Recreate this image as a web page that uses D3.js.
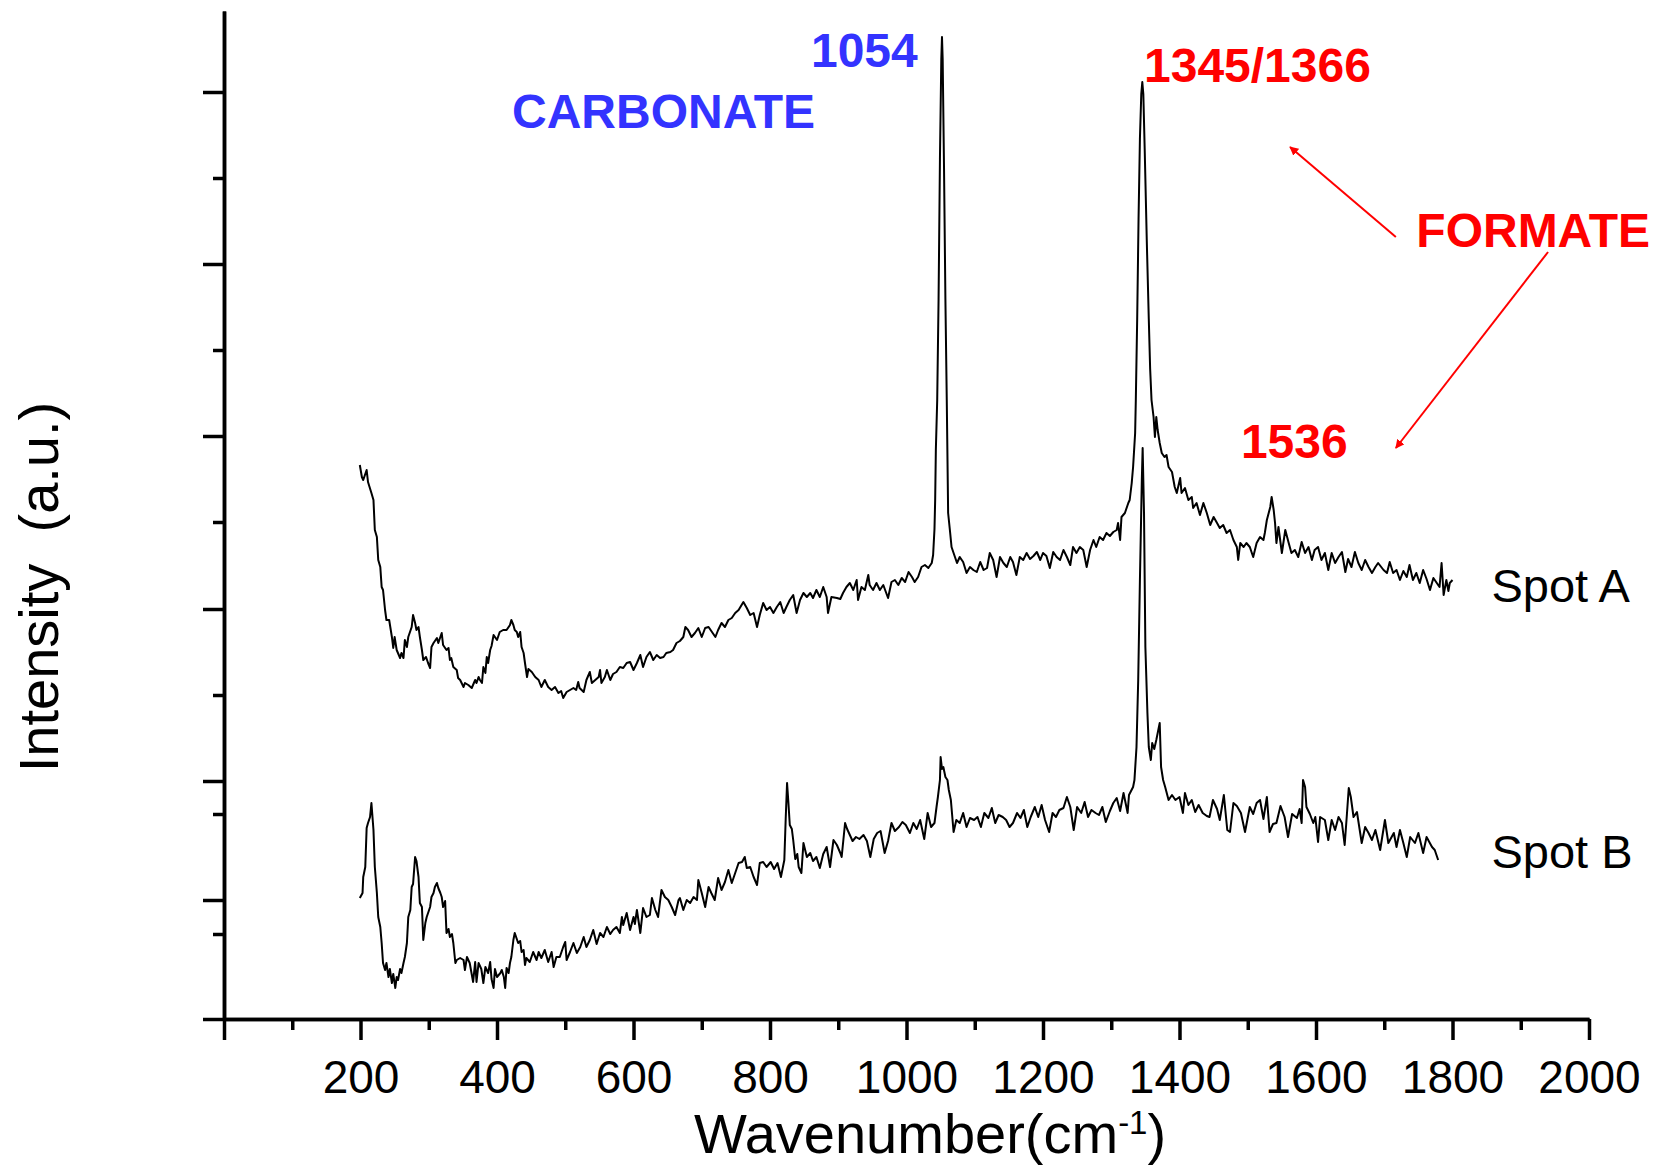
<!DOCTYPE html>
<html>
<head>
<meta charset="utf-8">
<style>
  body { margin: 0; background: #fff; }
  svg { display: block; font-family: "Liberation Sans", Arial, Helvetica, sans-serif; }
  .axis path, .axis line { stroke: #000; stroke-width: 3.5; fill: none; }
  .axis text { fill: #000; font-size: 46px; font-family: "Liberation Sans", Arial, sans-serif; }
  .spectrum { fill: none; stroke: #000; stroke-width: 2; stroke-linejoin: round; }
  .note { font-weight: bold; font-size: 48px; }
</style>
<script src="https://cdnjs.cloudflare.com/ajax/libs/d3/7.8.5/d3.min.js"></script>
</head>
<body>
<script>
// Raman spectra, [wavenumber cm-1, intensity a.u.]
var spotA = [[199,554],[202,542],[204,539],[209,549],[211,537],[216,526],[219,519],[221,489],[224,482],[226,459],[229,452],[231,432],[233,429],[236,409],[238,399],[242,399],[246,382],[248,371],[250,382],[253,369],[258,361],[260,366],[263,361],[265,379],[268,372],[270,382],[275,392],[277,404],[280,396],[282,389],[285,392],[287,382],[290,369],[292,359],[296,362],[299,356],[302,351],[304,372],[307,376],[312,381],[314,376],[317,382],[319,386],[321,374],[326,369],[329,371],[331,359],[333,361],[336,352],[341,349],[343,341],[346,339],[351,332],[353,336],[358,334],[363,331],[368,339],[370,336],[373,342],[375,339],[378,336],[380,352],[383,346],[385,362],[387,356],[390,369],[392,373],[395,384],[400,379],[404,387],[409,389],[414,389],[419,394],[421,399],[424,394],[426,389],[429,387],[431,382],[434,387],[436,372],[439,366],[441,356],[444,342],[446,350],[451,347],[456,342],[461,339],[465,332],[470,339],[475,332],[480,329],[485,332],[490,326],[494,328],[497,321],[502,327],[507,329],[512,331],[516,329],[519,337],[521,331],[527,327],[531,339],[536,347],[539,336],[544,339],[549,342],[551,349],[553,336],[558,342],[561,349],[566,339],[570,345],[575,347],[580,352],[585,351],[590,356],[595,357],[600,349],[605,356],[610,364],[614,352],[619,362],[624,367],[629,359],[634,364],[639,361],[644,362],[648,366],[654,367],[658,369],[663,376],[668,378],[673,382],[676,392],[680,389],[685,382],[690,386],[695,391],[700,382],[705,391],[710,392],[715,387],[720,382],[724,389],[729,396],[734,392],[739,399],[744,401],[749,406],[754,409],[761,417],[766,411],[771,404],[776,406],[781,392],[785,404],[790,416],[795,409],[800,412],[805,406],[810,412],[815,417],[820,406],[824,412],[829,419],[834,424],[839,406],[844,419],[849,426],[854,422],[859,426],[863,421],[868,429],[873,422],[878,432],[883,422],[885,406],[890,422],[898,421],[903,420],[907,426],[912,432],[917,436],[922,429],[927,439],[929,419],[934,432],[939,429],[944,444],[946,434],[951,429],[956,436],[961,429],[966,434],[973,421],[978,437],[983,439],[988,434],[993,441],[998,437],[1003,447],[1008,442],[1012,437],[1017,442],[1022,452],[1027,454],[1032,451],[1037,456],[1039,464],[1041,490],[1042,519],[1043,569],[1045,619],[1047,720],[1049,860],[1051,960],[1052,982],[1053,960],[1055,850],[1057,720],[1059,619],[1061,506],[1064,486],[1066,472],[1071,462],[1074,456],[1078,462],[1083,457],[1088,446],[1093,452],[1098,449],[1103,447],[1108,457],[1113,449],[1118,451],[1122,466],[1127,459],[1132,442],[1137,462],[1142,456],[1147,452],[1152,462],[1156,457],[1161,444],[1166,462],[1171,459],[1176,466],[1181,460],[1186,463],[1191,467],[1196,459],[1200,466],[1205,463],[1210,451],[1215,467],[1220,462],[1225,459],[1230,469],[1235,462],[1240,454],[1244,472],[1249,466],[1254,472],[1259,469],[1264,452],[1269,469],[1274,479],[1278,472],[1283,482],[1288,479],[1293,486],[1298,483],[1303,487],[1308,489],[1310,496],[1313,479],[1315,502],[1320,506],[1325,516],[1327,519],[1330,536],[1332,552],[1335,586],[1336,619],[1338,700],[1340,800],[1342,880],[1344,925],[1345.5,937],[1347,925],[1349,870],[1352,780],[1355,700],[1357,650],[1359,619],[1362,602],[1364,582],[1366,602],[1368,589],[1371,576],[1374,566],[1378,562],[1381,564],[1384,552],[1389,547],[1393,532],[1396,526],[1401,541],[1403,526],[1408,531],[1413,519],[1418,522],[1420,511],[1425,516],[1430,504],[1435,516],[1440,506],[1445,494],[1450,502],[1455,496],[1459,491],[1464,494],[1469,486],[1474,489],[1479,479],[1484,472],[1486,459],[1489,476],[1494,472],[1498,476],[1503,472],[1508,462],[1513,476],[1518,482],[1523,479],[1525,486],[1528,499],[1533,512],[1535,522],[1538,509],[1540,496],[1542,476],[1545,492],[1550,466],[1555,489],[1560,476],[1564,466],[1569,469],[1574,462],[1579,477],[1584,466],[1589,472],[1594,459],[1598,469],[1603,472],[1608,459],[1613,466],[1618,449],[1623,466],[1628,456],[1633,462],[1638,467],[1643,447],[1647,460],[1652,452],[1657,467],[1662,456],[1667,449],[1672,459],[1677,452],[1682,446],[1687,452],[1691,456],[1699,449],[1704,446],[1708,457],[1713,446],[1718,449],[1723,439],[1728,448],[1733,442],[1737,454],[1742,439],[1747,446],[1752,436],[1757,449],[1762,440],[1767,429],[1772,441],[1777,436],[1781,432],[1784,456],[1787,424],[1791,439],[1794,428],[1796,436],[1800,439]];

var spotB = [[199,121],[203,126],[204,142],[207,152],[209,191],[211,196],[214,202],[216,216],[219,189],[221,152],[224,126],[226,102],[229,92],[231,76],[233,56],[236,49],[238,56],[241,42],[243,50],[246,36],[248,45],[251,31],[253,42],[255,39],[258,50],[260,46],[263,56],[265,62],[268,76],[270,102],[273,109],[275,132],[277,135],[280,162],[282,158],[285,142],[287,116],[290,112],[292,79],[295,96],[297,102],[299,106],[302,112],[304,122],[307,126],[309,132],[312,136],[314,131],[317,126],[319,122],[321,112],[324,118],[326,86],[329,90],[331,82],[334,85],[336,76],[339,56],[341,59],[346,61],[351,59],[353,49],[356,62],[360,56],[365,37],[368,57],[370,37],[373,56],[377,50],[380,36],[383,52],[387,46],[390,57],[392,40],[395,31],[397,50],[400,42],[405,46],[407,49],[410,42],[412,31],[414,51],[417,46],[419,56],[421,62],[424,79],[426,86],[429,80],[431,76],[434,78],[436,67],[439,69],[441,54],[443,61],[448,57],[453,67],[458,59],[461,67],[465,61],[470,69],[475,57],[480,67],[483,52],[487,62],[492,62],[497,72],[500,77],[502,59],[507,67],[512,76],[517,66],[522,72],[527,82],[531,72],[536,79],[541,89],[546,75],[551,86],[556,82],[561,92],[566,85],[570,89],[575,92],[580,86],[583,102],[585,94],[590,106],[595,89],[600,102],[602,95],[605,109],[610,86],[614,111],[619,102],[624,104],[627,121],[632,109],[636,102],[641,129],[646,122],[651,119],[656,112],[661,104],[666,119],[668,121],[673,109],[678,119],[683,116],[688,122],[693,119],[695,139],[700,126],[705,112],[710,132],[714,126],[719,119],[724,141],[729,129],[734,137],[739,149],[744,136],[749,146],[754,156],[759,157],[763,162],[766,151],[771,152],[776,142],[781,134],[785,156],[790,157],[795,152],[801,157],[806,150],[811,156],[816,142],[821,159],[823,200],[825,236],[827,216],[829,194],[832,190],[834,179],[837,160],[840,165],[842,152],[846,146],[849,176],[854,162],[859,166],[863,158],[868,162],[873,151],[878,165],[883,172],[888,152],[893,179],[898,174],[903,166],[905,162],[910,196],[913,190],[917,184],[921,178],[926,182],[931,180],[937,184],[942,178],[947,162],[952,180],[957,186],[962,188],[968,166],[973,178],[978,196],[983,188],[989,192],[994,197],[999,194],[1005,186],[1010,196],[1015,190],[1020,199],[1026,180],[1031,206],[1036,192],[1041,196],[1044,212],[1046,222],[1049,239],[1050,262],[1052,250],[1054,252],[1057,242],[1060,239],[1062,229],[1065,219],[1069,187],[1073,199],[1078,196],[1083,206],[1088,192],[1093,201],[1099,199],[1104,202],[1109,192],[1114,206],[1120,201],[1125,211],[1130,196],[1135,204],[1141,202],[1146,199],[1151,192],[1156,196],[1162,206],[1167,201],[1172,209],[1177,192],[1182,202],[1188,212],[1193,202],[1198,214],[1203,199],[1209,187],[1214,206],[1219,202],[1224,209],[1230,211],[1235,222],[1240,212],[1245,189],[1250,212],[1256,206],[1261,217],[1266,202],[1271,209],[1277,206],[1282,204],[1287,212],[1292,197],[1298,208],[1303,216],[1308,221],[1313,208],[1318,226],[1324,206],[1326,224],[1332,232],[1334,239],[1337,272],[1339.5,339],[1342,439],[1344.8,539],[1346,571],[1348,506],[1350,372],[1353,306],[1355,272],[1358,259],[1360,276],[1363,270],[1366,279],[1371,296],[1373,252],[1376,239],[1379,232],[1384,219],[1389,224],[1394,219],[1400,222],[1405,206],[1408,226],[1413,214],[1418,219],[1423,207],[1428,214],[1434,206],[1440,203],[1444,202],[1449,219],[1455,210],[1459,199],[1465,224],[1470,189],[1474,187],[1479,216],[1484,213],[1490,206],[1496,187],[1503,212],[1508,205],[1513,216],[1518,219],[1523,200],[1528,222],[1532,187],[1537,195],[1542,196],[1548,213],[1554,202],[1559,182],[1565,205],[1572,201],[1576,210],[1579,196],[1581,239],[1584,232],[1586,212],[1591,205],[1596,196],[1599,202],[1603,177],[1606,202],[1613,199],[1618,179],[1623,199],[1628,189],[1633,202],[1638,196],[1642,174],[1645,202],[1648,231],[1651,222],[1655,202],[1660,207],[1667,176],[1672,192],[1677,186],[1682,179],[1687,189],[1694,169],[1701,199],[1706,176],[1714,186],[1718,172],[1723,189],[1728,176],[1733,162],[1738,182],[1745,176],[1750,186],[1757,166],[1762,182],[1770,172],[1774,169],[1779,159]];

var xMajor = [0,200,400,600,800,1000,1200,1400,1600,1800,2000];
var xMinor = [100,300,500,700,900,1100,1300,1500,1700,1900];
var yMajor = [0,119,238,410,583,755,927];
var yMinor = [85,205,324,497,669,841];

// annotation text anchored in data units [wavenumber, intensity]
var notes = [
  {text: "CARBONATE", wn: 422, y: 891, color: "#3333ff"},
  {text: "1054", wn: 860, y: 952, color: "#3333ff"},
  {text: "1345/1366", wn: 1348, y: 937, color: "#ff0000"},
  {text: "FORMATE", wn: 1747, y: 772, color: "#ff0000"},
  {text: "1536", wn: 1490, y: 561, color: "#ff0000"}
];
var spotLabels = [
  {text: "Spot A", wn: 1857, y: 417},
  {text: "Spot B", wn: 1857, y: 151}
];
var arrows = [
  {from: [1717, 782], to: [1562, 872]},
  {from: [1940, 767], to: [1717, 571]}
];

var margin = {top: 11, right: 75, bottom: 146, left: 224},
    width = 1664 - margin.left - margin.right,
    height = 1165 - margin.top - margin.bottom;

var x = d3.scaleLinear().domain([0, 2000]).range([0, width]);
var y = d3.scaleLinear().domain([0, 1008]).range([height, 0]);

var svg = d3.select("body").append("svg")
    .attr("width", 1664)
    .attr("height", 1165);

svg.append("rect").attr("width", 1664).attr("height", 1165).attr("fill", "#fff");

svg.append("defs").append("marker")
    .attr("id", "head")
    .attr("viewBox", "0 0 10 10")
    .attr("refX", 9).attr("refY", 5)
    .attr("markerWidth", 9).attr("markerHeight", 9)
    .attr("markerUnits", "userSpaceOnUse")
    .attr("orient", "auto")
  .append("path")
    .attr("d", "M0,0 L10,5 L0,10 z")
    .attr("fill", "#ff0000");

var g = svg.append("g")
    .attr("transform", "translate(" + margin.left + "," + margin.top + ")");

// minor ticks first
g.append("g")
    .attr("class", "axis")
    .attr("transform", "translate(0," + height + ")")
    .call(d3.axisBottom(x).tickValues(xMinor).tickSize(11).tickSizeOuter(0).tickFormat(""));

g.append("g")
    .attr("class", "axis")
    .call(d3.axisLeft(y).tickValues(yMinor).tickSize(11).tickSizeOuter(0).tickFormat(""));

var xAxis = g.append("g")
    .attr("class", "axis")
    .attr("transform", "translate(0," + height + ")")
    .call(d3.axisBottom(x).tickValues(xMajor).tickSize(21).tickSizeOuter(0)
      .tickFormat(function(d) { return d === 0 ? "" : d; }));
xAxis.selectAll("text").attr("y", 74).attr("dy", 0);

g.append("g")
    .attr("class", "axis")
    .call(d3.axisLeft(y).tickValues(yMajor).tickSize(21).tickSizeOuter(0).tickFormat(""));

var line = d3.line()
    .x(function(d) { return x(d[0]); })
    .y(function(d) { return y(d[1]); });

g.append("path").datum(spotA).attr("class", "spectrum").attr("d", line);
g.append("path").datum(spotB).attr("class", "spectrum").attr("d", line);

g.selectAll(".note").data(notes).enter().append("text")
    .attr("class", "note")
    .attr("x", function(d) { return x(d.wn); })
    .attr("y", function(d) { return y(d.y); })
    .attr("fill", function(d) { return d.color; })
    .text(function(d) { return d.text; });

g.selectAll(".spot").data(spotLabels).enter().append("text")
    .attr("class", "spot")
    .attr("x", function(d) { return x(d.wn); })
    .attr("y", function(d) { return y(d.y); })
    .style("font-size", "47px")
    .text(function(d) { return d.text; });

g.selectAll(".arrow").data(arrows).enter().append("line")
    .attr("class", "arrow")
    .attr("x1", function(d) { return x(d.from[0]); })
    .attr("y1", function(d) { return y(d.from[1]); })
    .attr("x2", function(d) { return x(d.to[0]); })
    .attr("y2", function(d) { return y(d.to[1]); })
    .attr("stroke", "#ff0000")
    .attr("stroke-width", 2)
    .attr("marker-end", "url(#head)");

// axis titles
var xt = svg.append("text")
    .attr("x", 930).attr("y", 1153)
    .attr("text-anchor", "middle")
    .style("font-size", "56px");
xt.append("tspan").text("Wavenumber(cm");
xt.append("tspan").attr("dy", -19).style("font-size", "33px").text("-1");
xt.append("tspan").attr("dy", 19).text(")");

svg.append("text")
    .attr("transform", "translate(58,587) rotate(-90)")
    .attr("text-anchor", "middle")
    .style("font-size", "56px")
    .style("white-space", "pre")
    .text("Intensity  (a.u.)");
</script>
</body>
</html>
